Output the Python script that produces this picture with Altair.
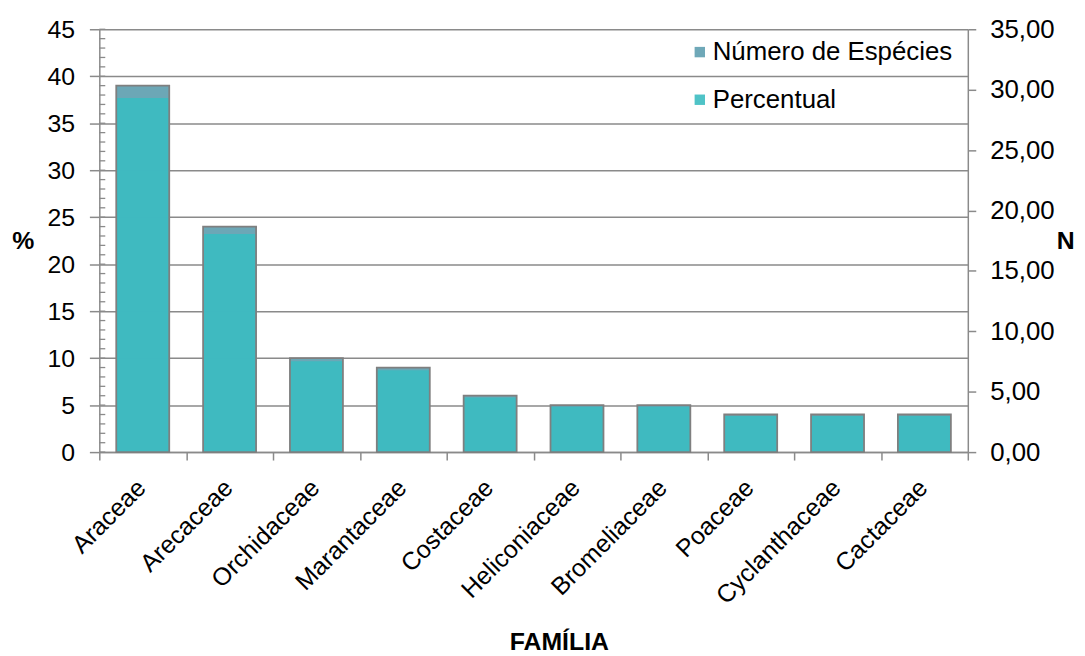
import altair as alt
import pandas as pd

familias = ["Araceae", "Arecaceae", "Orchidaceae", "Marantaceae", "Costaceae",
            "Heliconiaceae", "Bromeliaceae", "Poaceae", "Cyclanthaceae", "Cactaceae"]
numero_especies = [39, 24, 10, 9, 6, 5, 5, 4, 4, 4]
percentual = [29.32, 18.05, 7.52, 6.77, 4.51, 3.76, 3.76, 3.01, 3.01, 3.01]
series = ["Número de Espécies", "Percentual"]
left_ticks = [0, 5, 10, 15, 20, 25, 30, 35, 40, 45]
right_ticks = [0, 5, 10, 15, 20, 25, 30, 35]
minor_ticks = list(range(0, 46))

rows = []
for f, n, p in zip(familias, numero_especies, percentual):
    rows.append({"familia": f, "serie": series[0], "valor": n})
    rows.append({"familia": f, "serie": series[1], "valor": p})
df = pd.DataFrame(rows)
minor_df = pd.DataFrame({"v": minor_ticks})

FONT = "Liberation Sans"
GRAY = "#8a8a8a"

x_enc = alt.X(
    "familia:N", sort=familias,
    scale=alt.Scale(paddingInner=0, paddingOuter=0),
    axis=alt.Axis(
        title="FAMÍLIA", titleFontSize=25, titleFontWeight="bold", titleFont=FONT,
        titleX=463, titleY=199, titleBaseline="alphabetic", titleAlign="center",
        labelAngle=-45, labelAlign="right", labelBaseline="top", labelFontSize=25,
        labelFont=FONT, labelPadding=15, labelOffset=-10, labelColor="#000000",
        labelLimit=0,
        tickBand="extent", tickSize=8, tickColor=GRAY, tickWidth=1.5,
        domainColor=GRAY, domainWidth=1.5, grid=False,
    ),
)

color_enc = alt.Color(
    "serie:N",
    scale=alt.Scale(domain=series, range=["#5f9fb0", "#3cbcc1"]),
    legend=alt.Legend(
        title=None, orient="none", legendX=592, legendY=10, padding=0,
        symbolType="square", symbolSize=110, symbolStrokeWidth=0, symbolOpacity=0.9,
        labelFontSize=26, labelFont=FONT, labelColor="#000000", labelOffset=0,
        labelLimit=0, rowPadding=22,
    ),
)

base = alt.Chart(df)

num_bars = base.transform_filter(alt.datum.serie == series[0]).mark_bar(
    width=alt.RelativeBandSize(0.61), opacity=0.92
).encode(
    x=x_enc,
    y=alt.Y("valor:Q", scale=alt.Scale(domain=[0, 45], nice=False),
            axis=alt.Axis(
                orient="left", values=left_ticks, title="%", titleAngle=0,
                titleFontSize=25, titleFontWeight="bold", titleFont=FONT,
                titleX=-77, titleY=213, titleAlign="center", titleBaseline="middle",
                labelFontSize=25, labelFont=FONT, labelColor="#000000", labelPadding=15,
                tickSize=10, tickColor=GRAY, tickWidth=1.5,
                domainColor=GRAY, domainWidth=1.5,
                grid=True, gridColor=GRAY, gridWidth=1.5,
            )),
    color=color_enc,
)

pct_bars = base.transform_filter(alt.datum.serie == series[1]).mark_bar(
    width=alt.RelativeBandSize(0.61), opacity=0.92
).encode(
    x=x_enc,
    y=alt.Y("valor:Q", scale=alt.Scale(domain=[0, 35], nice=False),
            axis=alt.Axis(
                orient="right", values=right_ticks, title="N", titleAngle=0,
                titleFontSize=25, titleFontWeight="bold", titleFont=FONT,
                titleX=98, titleY=213, titleAlign="center", titleBaseline="middle",
                labelExpr="replace(format(datum.value, '.2f'), '.', ',')",
                labelFontSize=26, labelFont=FONT, labelColor="#000000", labelPadding=14,
                tickSize=8, tickColor=GRAY, tickWidth=1.5,
                domainColor=GRAY, domainWidth=1.5, grid=False,
            )),
    color=color_enc,
)

outline = base.transform_filter(alt.datum.serie == series[0]).mark_bar(
    width=alt.RelativeBandSize(0.61), fillOpacity=0, stroke="#7f7f7f", strokeWidth=1.8
).encode(
    x=x_enc,
    y=alt.Y("valor:Q", scale=alt.Scale(domain=[0, 45], nice=False), axis=None),
)

minor = alt.Chart(minor_df).mark_rule(color=GRAY, strokeWidth=1.3).encode(
    y=alt.Y("v:Q", scale=alt.Scale(domain=[0, 45], nice=False), axis=None),
    x=alt.value(0),
    x2=alt.value(6),
)

chart = alt.layer(num_bars, pct_bars, outline, minor).resolve_scale(
    y="independent"
).properties(
    width=875, height=426,
    padding={"left": 92, "top": 19, "right": 110, "bottom": 203},
    autosize=alt.AutoSizeParams(type="none"),
).configure_view(strokeWidth=0)

chart.save("out.html", embed_options={"renderer": "svg", "actions": False})
